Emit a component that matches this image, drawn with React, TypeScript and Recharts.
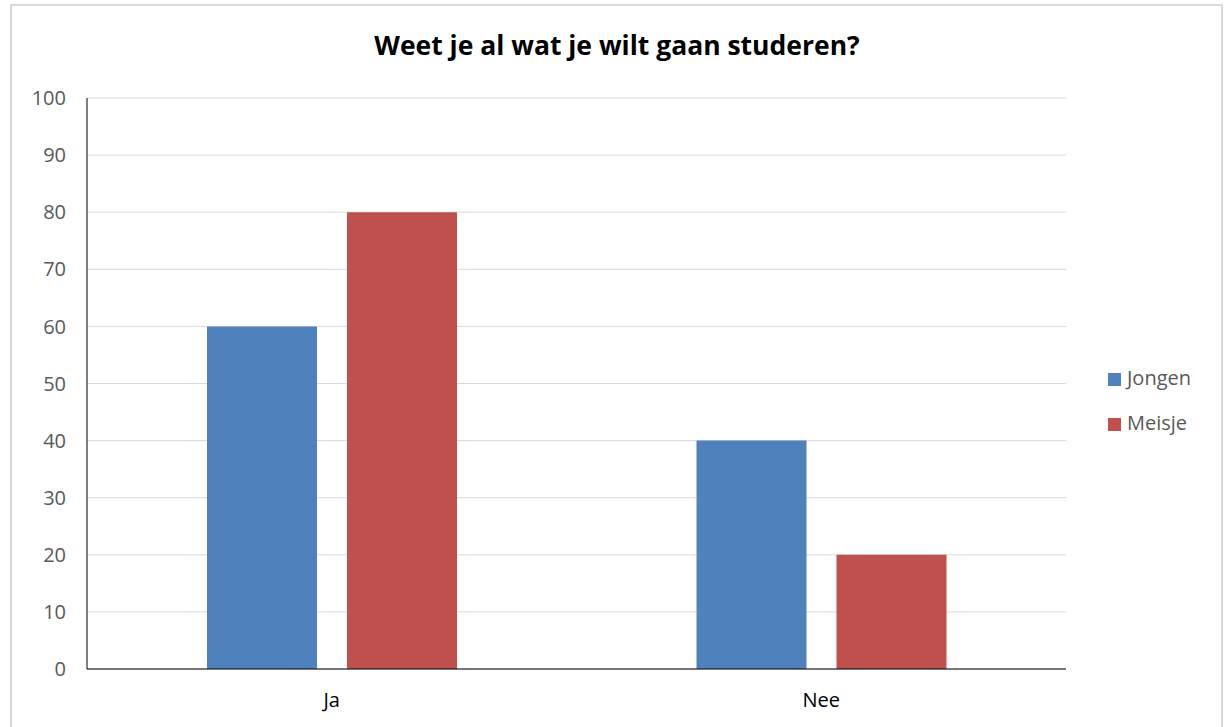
import { BarChart, Bar, XAxis, YAxis, CartesianGrid, Legend } from "recharts";

const categories = ["Ja", "Nee"];
const jongen = [60, 40];
const meisje = [80, 20];
const yTicks = [0, 10, 20, 30, 40, 50, 60, 70, 80, 90, 100];

const data = categories.map((c, i) => ({ name: c, Jongen: jongen[i], Meisje: meisje[i] }));

const FONT = "'Open Sans', sans-serif";
const GREY = "#595959";

export default function App() {
  return (
    <div
      style={{
        position: "fixed",
        left: 0,
        top: 0,
        width: 1224,
        height: 727,
        overflow: "hidden",
        background: "#fff",
        fontFamily: FONT,
      }}
    >
      <div
        style={{
          position: "absolute",
          left: 10,
          top: 4,
          width: 1209,
          height: 760,
          border: "2px solid #d9d9d9",
        }}
      />
      <div
        style={{
          position: "absolute",
          left: 0,
          width: 1234,
          top: 27,
          textAlign: "center",
          fontSize: 26.5,
          fontWeight: 700,
          color: "#000",
        }}
      >
        Weet je al wat je wilt gaan studeren?
      </div>
      <div style={{ position: "absolute", left: 0, top: 0 }}>
        <BarChart
          width={1224}
          height={727}
          data={data}
          margin={{ top: 98, right: 158, bottom: 28, left: 27 }}
          barGap={30}
          barCategoryGap={120}
        >
          <CartesianGrid horizontal vertical={false} stroke="#d9d9d9" strokeWidth={1} />
          <XAxis
            dataKey="name"
            height={30}
            tickSize={0}
            tickMargin={24}
            axisLine={{ stroke: "#000", strokeWidth: 1 }}
            tick={{ fill: "#000", fontSize: 20, fontFamily: FONT }}
          />
          <YAxis
            width={60}
            domain={[0, 100]}
            ticks={yTicks}
            tickSize={0}
            tickMargin={21}
            axisLine={{ stroke: "#000", strokeWidth: 1 }}
            tick={{ fill: GREY, fontSize: 20, fontFamily: FONT }}
          />
          <Legend
            layout="vertical"
            align="center"
            verticalAlign="middle"
            iconType="square"
            iconSize={13}
            wrapperStyle={{ left: 1108, top: 355, width: 116, fontSize: 20, lineHeight: "45px", textAlign: "left" }}
            formatter={(value) => (
              <span style={{ color: GREY, fontFamily: FONT, marginLeft: 2 }}>{value}</span>
            )}
          />
          <Bar dataKey="Jongen" fill="#4f81bd" isAnimationActive={false} />
          <Bar dataKey="Meisje" fill="#c0504d" isAnimationActive={false} />
        </BarChart>
      </div>
    </div>
  );
}
